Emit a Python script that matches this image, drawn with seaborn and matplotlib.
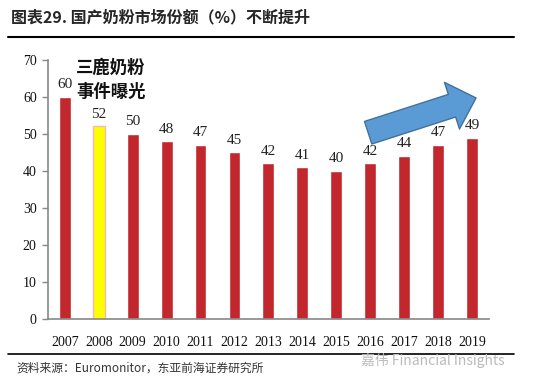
import matplotlib
matplotlib.use('Agg')
import matplotlib.pyplot as plt
import seaborn as sns
import pandas as pd

# 国产奶粉市场份额（%）
years = ['2007', '2008', '2009', '2010', '2011', '2012', '2013',
         '2014', '2015', '2016', '2017', '2018', '2019']
share = [60, 52, 50, 48, 47, 45, 42, 41, 40, 42, 44, 47, 49]
highlight_year = '2008'

sns.set_theme(style='white')
plt.rcParams['font.family'] = ['Noto Sans CJK SC', 'DejaVu Sans']
serif = ['Liberation Serif', 'DejaVu Serif']

df = pd.DataFrame({'year': years, 'share': share})
red = '#C1272D'
yellow = '#FFFF00'
palette = {y: (yellow if y == highlight_year else red) for y in years}

fig = plt.figure(figsize=(5.5, 3.86), dpi=100)
ax = fig.add_axes([0.087, 0.174, 0.802, 0.671])

sns.barplot(data=df, x='year', y='share', hue='year', palette=palette,
            legend=False, width=0.35, saturation=1, ax=ax)
for p, y in zip(ax.patches, years):
    if y == highlight_year:
        p.set_edgecolor('#F4B6B6')
        p.set_linewidth(1)

for i, v in enumerate(share):
    ax.text(i, v + 1.5, str(v), ha='center', va='bottom',
            family=serif, fontsize=11, color='#222222')

ax.set_xlim(-0.5, 12.5)
ax.set_ylim(0, 70)
ax.set_yticks(range(0, 71, 10))
ax.set_xlabel('')
ax.set_ylabel('')
for lab in ax.get_xticklabels() + ax.get_yticklabels():
    lab.set_family(serif)
    lab.set_fontsize(10)
    lab.set_color('#111111')
ax.tick_params(axis='y', left=True, length=4, width=1, color='#888888', pad=4)
ax.tick_params(axis='x', bottom=False, pad=6)
sns.despine(ax=ax)
for s in ['left', 'bottom']:
    ax.spines[s].set_color('#888888')
    ax.spines[s].set_linewidth(1.2)

# event annotation
ax.text(1.35, 64.7, '三鹿奶粉\n事件曝光', ha='center', va='center',
        fontsize=12.5, fontweight='bold', linespacing=1.45, color='#111111')

# upward trend arrow
ax.annotate('', xy=(12.12, 59.7), xytext=(8.94, 50.3),
            arrowprops=dict(arrowstyle='simple,head_length=0.65,head_width=1.26,tail_width=0.61',
                            mutation_scale=28, fc='#5B9BD5', ec='#41719C', lw=1,
                            shrinkA=0, shrinkB=0))

# title and rules
fig.text(0.02, 0.955, '图表29. 国产奶粉市场份额（%）不断提升', fontsize=11.5,
         fontweight='bold', va='center', ha='left')
fig.add_artist(plt.Line2D([0.015, 0.935], [0.905, 0.905], color='black', lw=1.5))
fig.add_artist(plt.Line2D([0.015, 0.935], [0.083, 0.083], color='black', lw=1.2))
fig.text(0.03, 0.045, '资料来源：Euromonitor，东亚前海证券研究所', fontsize=8.5,
         va='center', ha='left', color='#333333')
fig.text(0.918, 0.065, '嘉伟 Financial Insights', fontsize=10, va='center',
         ha='right', color='#BBBBBB')

fig.savefig('out.png', dpi=100)
